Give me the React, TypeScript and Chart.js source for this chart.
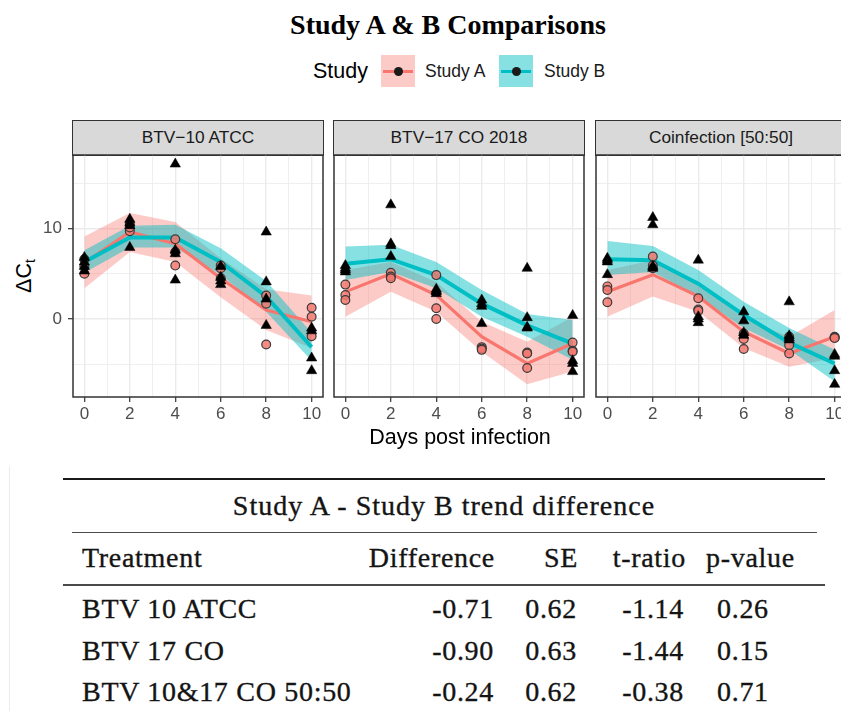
import React, { useEffect, useRef } from 'react';
import { Chart, registerables } from 'chart.js';

Chart.register(...registerables);

// ---- Data -------------------------------------------------------------
const days = [0, 2, 4, 6, 8, 10];

// BTV-10 ATCC: replicate observations per day, model fit and interval
const atccObsA = [[5.0, 5.8, 6.6], [9.7, 10.1, 10.5], [8.8, 7.4, 5.9], [5.9, 5.6, 4.5], [2.6, 1.7, -2.8], [1.25, 0.25, -1.9]];
const atccObsB = [[6.8, 6.3, 5.8, 5.3], [11.0, 10.6, 10.3, 7.9], [17.1, 7.6, 7.2, 4.3], [5.8, 4.6, 4.2, 3.8], [9.6, 4.1, 2.2, -0.7], [-1.0, -1.3, -4.3, -5.7]];
const atccFitA = [6.2, 9.6, 8.3, 4.5, 1.0, -0.3];
const atccLowA = [3.4, 7.4, 6.3, 2.4, -1.2, -3.2];
const atccHighA = [9.1, 11.7, 10.7, 6.7, 3.3, 2.6];
const atccFitB = [6.3, 9.0, 9.0, 6.3, 2.5, -3.1];
const atccLowB = [5.1, 7.9, 7.9, 4.9, 0.8, -4.6];
const atccHighB = [7.6, 10.3, 10.4, 7.8, 4.2, -1.5];

// BTV-17 CO 2018
const coObsA = [[3.8, 2.65, 2.1], [5.1, 4.7, 4.5], [4.85, 1.2, 0.0], [-3.1, -3.25, -3.4], [-3.7, -3.8, -5.4], [-2.6, -3.5, -3.6]];
const coObsB = [[5.9, 5.6, 5.4, 5.2], [12.6, 8.3, 8.1, 6.9], [3.3, 3.1, 3.0, 2.8], [2.1, 1.7, 1.4, -0.5], [5.6, 0.15, -0.9, -1.0], [0.4, -4.6, -4.9, -5.8]];
const coFitA = [3.0, 5.0, 2.65, -1.95, -4.9, -2.7];
const coLowA = [0.25, 3.0, 0.8, -3.6, -7.2, -5.8];
const coHighA = [5.4, 6.3, 4.1, -0.3, -2.5, 0.26];
const coFitB = [6.1, 6.6, 4.85, 1.7, -0.7, -2.7];
const coLowB = [4.3, 5.2, 3.4, 0.25, -1.95, -4.5];
const coHighB = [8.0, 8.2, 6.3, 3.2, 0.55, -0.1];

// Coinfection [50:50]
const mixObsA = [[3.6, 3.2, 1.85], [6.9, 5.9, 5.6], [2.3, 1.05, 0.9], [-1.6, -2.2, -3.3], [-1.95, -2.9, -3.8], [-1.95, -2.05, -2.1]];
const mixObsB = [[6.7, 6.5, 6.3, 4.9], [11.2, 10.4, 5.8, 5.6], [6.5, 0.26, 0.0, -0.4], [0.8, -0.2, -1.5, -1.8], [1.9, -1.85, -2.1, -2.3], [-3.9, -4.1, -5.7, -7.2]];
const mixFitA = [3.0, 4.9, 2.5, -1.4, -3.8, -1.95];
const mixLowA = [0.26, 2.5, 0.8, -3.2, -5.25, -4.3];
const mixHighA = [5.4, 6.5, 3.9, 0.07, -1.95, 1.0];
const mixFitB = [6.6, 6.5, 3.9, 0.45, -2.6, -4.9];
const mixLowB = [4.85, 5.2, 2.5, -1.0, -3.4, -6.9];
const mixHighB = [8.6, 8.05, 5.4, 1.9, -1.0, -3.4];

const facetLabels = ['BTV\u221210 ATCC', 'BTV\u221217 CO 2018', 'Coinfection [50:50]'];

// Axis breaks
const xBreaks = [0, 1, 2, 3, 4, 5, 6, 7, 8, 9, 10];
const xLabelled = [0, 2, 4, 6, 8, 10];
const yBreaks = [-5, 0, 5, 10, 15];
const yLabelled = [0, 10];

// Table of trend differences
const treatments = ['BTV 10 ATCC', 'BTV 17 CO', 'BTV 10&17 CO 50:50'];
const differences = [-0.71, -0.90, -0.24];
const standardErrors = [0.62, 0.63, 0.62];
const tRatios = [-1.14, -1.44, -0.38];
const pValues = [0.26, 0.15, 0.71];

// ---- Styling ----------------------------------------------------------
const RED = '#F8766D';
const TEAL = '#00BFC4';
const RED_BAND = 'rgba(248,118,109,0.38)';
const TEAL_BAND = 'rgba(0,191,196,0.47)';
const SANS = '"Liberation Sans", Arial, sans-serif';
const SERIF = '"Liberation Serif", "Times New Roman", serif';

const PANEL_W = 250;
const PANEL_TOP = 155;
const PANEL_H = 242;
const PANEL_LEFTS = [73, 334, 596];
const Y_AXIS_W = 34;
const X_AXIS_H = 30;
const PAD = 2;

type Facet = {
  obsA: number[][]; obsB: number[][];
  fitA: number[]; lowA: number[]; highA: number[];
  fitB: number[]; lowB: number[]; highB: number[];
};

const facets: Facet[] = [
  { obsA: atccObsA, obsB: atccObsB, fitA: atccFitA, lowA: atccLowA, highA: atccHighA, fitB: atccFitB, lowB: atccLowB, highB: atccHighB },
  { obsA: coObsA, obsB: coObsB, fitA: coFitA, lowA: coLowA, highA: coHighA, fitB: coFitB, lowB: coLowB, highB: coHighB },
  { obsA: mixObsA, obsB: mixObsB, fitA: mixFitA, lowA: mixLowA, highA: mixHighA, fitB: mixFitB, lowB: mixLowB, highB: mixHighB },
];

const toXY = (vals: number[]) => days.map((d, i) => ({ x: d, y: vals[i] }));
const toPoints = (obs: number[][]) => obs.flatMap((vals, i) => vals.map((v) => ({ x: days[i], y: v })));

const panelBorder = {
  id: 'panelBorder',
  afterDraw(chart: any) {
    const { ctx, chartArea: a } = chart;
    ctx.save();
    ctx.strokeStyle = '#333333';
    ctx.lineWidth = 1.5;
    ctx.strokeRect(a.left, a.top, a.right - a.left, a.bottom - a.top);
    ctx.restore();
  },
};

function buildConfig(f: Facet, showY: boolean): any {
  const hidden = 'rgba(0,0,0,0)';
  const datasets = [
    // 0: Study B observations (triangles, on top)
    { data: toPoints(f.obsB), showLine: false, pointStyle: 'triangle', pointRadius: 6, pointBackgroundColor: '#000', pointBorderColor: '#000', pointBorderWidth: 0.5, order: 0 },
    // 1: Study A observations (circles)
    { data: toPoints(f.obsA), showLine: false, pointStyle: 'circle', pointRadius: 4.4, pointBackgroundColor: 'rgba(242,120,110,0.85)', pointBorderColor: '#3a3a3a', pointBorderWidth: 1.2, order: 1 },
    // 2: Study B fitted trend
    { data: toXY(f.fitB), borderColor: TEAL, borderWidth: 4, pointRadius: 0, fill: false, order: 2 },
    // 3: Study A fitted trend
    { data: toXY(f.fitA), borderColor: RED, borderWidth: 3.2, pointRadius: 0, fill: false, order: 3 },
    // 4, 5: Study B interval
    { data: toXY(f.lowB), borderColor: hidden, borderWidth: 1, pointRadius: 0, fill: false, order: 4 },
    { data: toXY(f.highB), borderColor: hidden, borderWidth: 1, pointRadius: 0, fill: { target: 4 }, backgroundColor: TEAL_BAND, order: 4 },
    // 6, 7: Study A interval
    { data: toXY(f.lowA), borderColor: hidden, borderWidth: 1, pointRadius: 0, fill: false, order: 5 },
    { data: toXY(f.highA), borderColor: hidden, borderWidth: 1, pointRadius: 0, fill: { target: 6 }, backgroundColor: RED_BAND, order: 5 },
  ];

  return {
    type: 'line',
    data: { datasets },
    options: {
      animation: false,
      responsive: false,
      maintainAspectRatio: false,
      devicePixelRatio: 1,
      events: [],
      layout: { autoPadding: false, padding: { left: showY ? 0 : PAD, right: PAD, top: PAD, bottom: 0 } },
      elements: { line: { tension: 0 } },
      plugins: {
        legend: { display: false },
        tooltip: { enabled: false },
        title: { display: false },
      },
      scales: {
        x: {
          type: 'linear',
          min: -0.5,
          max: 10.5,
          afterBuildTicks: (scale: any) => { scale.ticks = xBreaks.map((v) => ({ value: v })); },
          afterFit: (scale: any) => { scale.height = X_AXIS_H; scale.paddingLeft = 0; scale.paddingRight = 0; },
          border: { display: false },
          grid: {
            color: '#ebebeb',
            lineWidth: (c: any) => (xLabelled.includes(c.tick?.value) ? 1.4 : 0.8),
            drawTicks: true,
            tickLength: 5,
            tickWidth: 1.2,
            tickColor: (c: any) => (xLabelled.includes(c.tick?.value) ? '#333333' : hidden),
          },
          ticks: {
            autoSkip: false,
            maxRotation: 0,
            padding: 2,
            color: '#4d4d4d',
            font: { family: SANS, size: 17 },
            callback: (v: number) => (xLabelled.includes(v) ? String(v) : ''),
          },
        },
        y: {
          type: 'linear',
          min: -8.6,
          max: 18.1,
          afterBuildTicks: (scale: any) => { scale.ticks = yBreaks.map((v) => ({ value: v })); },
          afterFit: (scale: any) => { scale.width = showY ? Y_AXIS_W : 0; scale.paddingTop = 0; scale.paddingBottom = 0; },
          border: { display: false },
          grid: {
            color: '#ebebeb',
            lineWidth: (c: any) => (yLabelled.includes(c.tick?.value) ? 1.4 : 0.8),
            drawTicks: showY,
            tickLength: 5,
            tickWidth: 1.2,
            tickColor: (c: any) => (yLabelled.includes(c.tick?.value) ? '#333333' : hidden),
          },
          ticks: {
            display: showY,
            padding: 6,
            color: '#4d4d4d',
            font: { family: SANS, size: 17 },
            callback: (v: number) => (yLabelled.includes(v) ? String(v) : ''),
          },
        },
      },
    },
    plugins: [panelBorder],
  };
}

function FacetPanel({ facet, index }: { facet: Facet; index: number }) {
  const ref = useRef<HTMLCanvasElement>(null);
  const showY = index === 0;
  const panelLeft = PANEL_LEFTS[index];
  const canvasLeft = showY ? panelLeft - Y_AXIS_W : panelLeft - PAD;
  const canvasW = (showY ? Y_AXIS_W : PAD) + PANEL_W + PAD;
  const canvasTop = PANEL_TOP - PAD;
  const canvasH = PAD + PANEL_H + X_AXIS_H;

  useEffect(() => {
    if (!ref.current) return;
    const chart = new Chart(ref.current, buildConfig(facet, showY));
    return () => chart.destroy();
  }, [facet, showY]);

  return (
    <>
      <div
        style={{
          position: 'absolute',
          left: panelLeft - 0.75,
          top: 119.5,
          width: PANEL_W + 1.5,
          height: 36,
          boxSizing: 'border-box',
          border: '1.5px solid #333333',
          background: '#d9d9d9',
          color: '#1a1a1a',
          fontFamily: SANS,
          fontSize: 17.3,
          lineHeight: '33px',
          textAlign: 'center',
          whiteSpace: 'nowrap',
        }}
      >
        {facetLabels[index]}
      </div>
      <canvas
        ref={ref}
        width={canvasW}
        height={canvasH}
        style={{ position: 'absolute', left: canvasLeft, top: canvasTop, width: canvasW, height: canvasH }}
      />
    </>
  );
}

function LegendKey({ left, band, line }: { left: number; band: string; line: string }) {
  return (
    <div style={{ position: 'absolute', left, top: 55, width: 34, height: 32, background: band }}>
      <div style={{ position: 'absolute', left: 2, right: 2, top: 14.5, height: 3.5, background: line }} />
      <div style={{ position: 'absolute', left: 12.5, top: 11.5, width: 9, height: 9, borderRadius: '50%', background: '#1a1a1a' }} />
    </div>
  );
}

const tableText: React.CSSProperties = {
  position: 'absolute',
  fontFamily: SERIF,
  fontSize: 28,
  lineHeight: '34px',
  letterSpacing: '0.7px',
  color: '#141414',
  whiteSpace: 'nowrap',
  WebkitTextStroke: '0.35px #141414',
};

function Cell({ x, cy, align, children }: { x: number; cy: number; align: 'left' | 'right' | 'center'; children: React.ReactNode }) {
  const w = 700;
  const left = align === 'left' ? x : align === 'right' ? x - w : x - w / 2;
  return <div style={{ ...tableText, left, top: cy - 17, width: w, textAlign: align }}>{children}</div>;
}

const rowCenters = [609, 651, 692];

export default function App() {
  return (
    <div
      style={{
        position: 'fixed',
        left: 0,
        top: 0,
        width: 841,
        height: 711,
        overflow: 'hidden',
        background: '#ffffff',
      }}
    >
      {/* Title */}
      <div
        style={{
          position: 'absolute', left: 148, top: 9, width: 600, lineHeight: '32px', textAlign: 'center',
          fontFamily: SERIF, fontWeight: 'bold', fontSize: 28, color: '#000',
        }}
      >
        Study A &amp; B Comparisons
      </div>

      {/* Legend */}
      <div style={{ position: 'absolute', left: 313, top: 58, fontFamily: SANS, fontSize: 21.5, lineHeight: '26px', color: '#000' }}>Study</div>
      <LegendKey left={381} band={RED_BAND} line={RED} />
      <div style={{ position: 'absolute', left: 425, top: 60, fontFamily: SANS, fontSize: 17.5, lineHeight: '22px', color: '#1a1a1a' }}>Study A</div>
      <LegendKey left={499} band={TEAL_BAND} line={TEAL} />
      <div style={{ position: 'absolute', left: 544, top: 60, fontFamily: SANS, fontSize: 17.5, lineHeight: '22px', color: '#1a1a1a' }}>Study B</div>

      {/* Facets */}
      {facets.map((f, i) => (
        <FacetPanel key={i} facet={f} index={i} />
      ))}

      {/* Axis titles */}
      <div
        style={{
          position: 'absolute', left: 260, top: 424, width: 400, lineHeight: '26px', textAlign: 'center',
          fontFamily: SANS, fontSize: 21.5, color: '#000',
        }}
      >
        Days post infection
      </div>
      <div
        style={{
          position: 'absolute', left: 24 - 40, top: 276 - 13, width: 80, height: 26, lineHeight: '26px', textAlign: 'center',
          fontFamily: SANS, fontSize: 21.5, color: '#000', transform: 'rotate(-90deg)', transformOrigin: '50% 50%',
        }}
      >
        ΔC<sub style={{ fontSize: 14, verticalAlign: '-4px' }}>t</sub>
      </div>

      {/* Table */}
      <div style={{ position: 'absolute', left: 9, top: 466, width: 1, height: 245, background: '#ececec' }} />
      <div style={{ position: 'absolute', left: 63, top: 478, width: 762, height: 2, background: '#1a1a1a' }} />
      <Cell x={444} cy={506} align="center">
        <span style={{ letterSpacing: '1px' }}>Study A - Study B trend difference</span>
      </Cell>
      <div style={{ position: 'absolute', left: 72, top: 531.5, width: 745, height: 1.2, background: '#4a4a4a' }} />
      <Cell x={82} cy={558} align="left">Treatment</Cell>
      <Cell x={495} cy={558} align="right">Difference</Cell>
      <Cell x={578} cy={558} align="right">SE</Cell>
      <Cell x={686} cy={558} align="right">t-ratio</Cell>
      <Cell x={706} cy={558} align="left">p-value</Cell>
      <div style={{ position: 'absolute', left: 63, top: 584, width: 762, height: 1.5, background: '#4a4a4a' }} />
      {treatments.map((t, i) => (
        <React.Fragment key={t}>
          <Cell x={82} cy={rowCenters[i]} align="left">{t}</Cell>
          <Cell x={494} cy={rowCenters[i]} align="right">{differences[i].toFixed(2)}</Cell>
          <Cell x={577} cy={rowCenters[i]} align="right">{standardErrors[i].toFixed(2)}</Cell>
          <Cell x={684} cy={rowCenters[i]} align="right">{tRatios[i].toFixed(2)}</Cell>
          <Cell x={717} cy={rowCenters[i]} align="left">{pValues[i].toFixed(2)}</Cell>
        </React.Fragment>
      ))}
    </div>
  );
}
